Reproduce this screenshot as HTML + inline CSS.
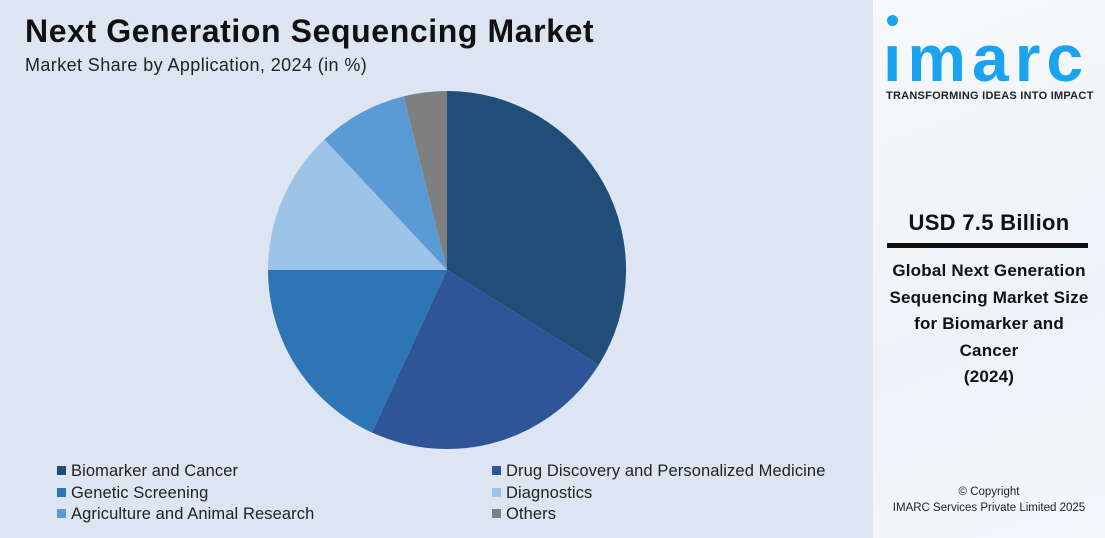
<!DOCTYPE html>
<html><head><meta charset="utf-8"><style>
body{margin:0;width:1105px;height:538px;overflow:hidden;font-family:"Liberation Sans",sans-serif;background:#fff;position:relative}
.left{position:absolute;left:0;top:0;width:873px;height:538px;background:#dce5f1}
.right{position:absolute;left:873px;top:0;width:232px;height:538px;background:linear-gradient(160deg,#f7f9fb,#eef3f7 60%,#f4f7fa)}
.t{position:absolute;white-space:nowrap}
.lg{position:absolute;font-size:16.5px;color:#222;white-space:nowrap;letter-spacing:0.1px}
.lg i{display:inline-block;width:9px;height:9px;margin-right:5px;vertical-align:1px}
</style></head><body>
<div class="left">
<div class="t" style="left:25px;top:13px;font-size:32px;font-weight:bold;color:#111;letter-spacing:0.6px">Next Generation Sequencing Market</div>
<div class="t" style="left:25px;top:55px;font-size:18px;color:#222;letter-spacing:0.4px">Market Share by Application, 2024 (in %)</div>
<svg width="873" height="538" style="position:absolute;left:0;top:0">
<path d="M447,270 L447,91 A179,179 0 0 1 598.8,364.9 Z" fill="#1f4e79"/>
<path d="M447,270 L598.8,364.9 A179,179 0 0 1 371.9,432.5 Z" fill="#2e5597"/>
<path d="M447,270 L371.9,432.5 A179,179 0 0 1 268,270 Z" fill="#2e75b6"/>
<path d="M447,270 L268,270 A179,179 0 0 1 324.5,139.5 Z" fill="#9dc3e6"/>
<path d="M447,270 L324.5,139.5 A179,179 0 0 1 403.7,96.3 Z" fill="#5b9bd5"/>
<path d="M447,270 L403.7,96.3 A179,179 0 0 1 447,91 Z" fill="#7f7f7f"/>
</svg>
<div class="lg" style="left:57px;top:462px"><i style="background:#1f4e79"></i>Biomarker and Cancer</div>
<div class="lg" style="left:57px;top:484px"><i style="background:#2e75b6"></i>Genetic Screening</div>
<div class="lg" style="left:57px;top:505px"><i style="background:#5b9bd5"></i>Agriculture and Animal Research</div>
<div class="lg" style="left:492px;top:462px"><i style="background:#2e5597"></i>Drug Discovery and Personalized Medicine</div>
<div class="lg" style="left:492px;top:484px"><i style="background:#9dc3e6"></i>Diagnostics</div>
<div class="lg" style="left:492px;top:505px"><i style="background:#7f7f7f"></i>Others</div>
</div>
<div class="right">
<div style="position:absolute;left:14px;top:15px;width:11px;height:11px;border-radius:50%;background:#1aa3f0"></div>
<div class="t" style="left:10px;top:23px;font-size:66px;font-weight:bold;color:#1aa3f0;letter-spacing:6px;line-height:70px">ımarc</div>
<div class="t" style="left:13px;top:90px;font-size:11px;font-weight:bold;color:#222;letter-spacing:0.25px">TRANSFORMING IDEAS INTO IMPACT</div>
<div class="t" style="left:0;width:232px;text-align:center;top:210px;font-size:22px;font-weight:bold;color:#111;letter-spacing:0.3px">USD 7.5 Billion</div>
<div style="position:absolute;left:14px;top:243px;width:201px;height:5px;background:#111"></div>
<div style="position:absolute;left:0;width:232px;text-align:center;top:258px;font-size:17px;font-weight:bold;color:#111;line-height:26.5px;letter-spacing:0.2px">Global Next Generation<br>Sequencing Market Size<br>for Biomarker and<br>Cancer<br>(2024)</div>
<div class="t" style="left:0;width:232px;text-align:center;top:486px;font-size:11.5px;color:#222">© Copyright</div>
<div class="t" style="left:0;width:232px;text-align:center;top:502px;font-size:11.5px;color:#222">IMARC Services Private Limited 2025</div>
</div>
</body></html>
